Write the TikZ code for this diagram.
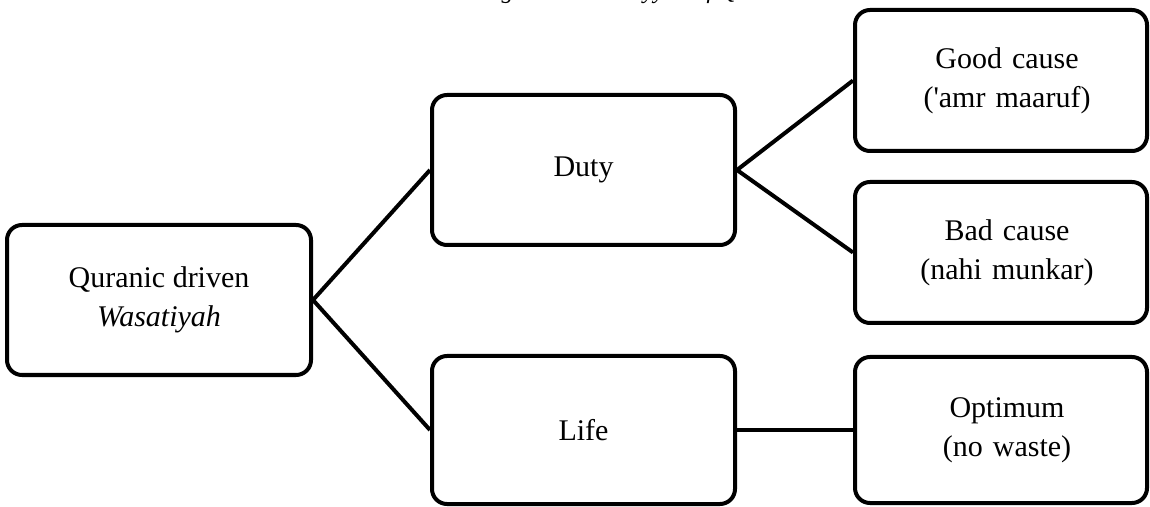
\documentclass[tikz,border=0pt]{standalone}
\usepackage{fontspec}
\setmainfont{Liberation Serif}
\begin{document}
\begin{tikzpicture}[x=0.5pt,y=-0.5pt,
  box/.style={draw=black, line width=2pt, rounded corners=7.5pt,
    align=center, inner sep=0pt, font=\fontsize{15}{19.5}\selectfont},
  link/.style={draw=black, line width=2pt}]
  \useasboundingbox (0,0) rectangle (1150,507);
  % caption sitting above the figure
  \node[anchor=base west, inner sep=0pt, font=\fontsize{12}{14}\selectfont\itshape]
    (cap) at (480,-1.5) {Figure 3: Wasatiyyah of Qur\textquotesingle an};
  % boxes
  \node[box, minimum width=152pt, minimum height=75pt] (root) at (159,300)
    {Quranic driven\\\textit{Wasatiyah}};
  \node[box, minimum width=151.5pt, minimum height=75pt] (duty) at (583.5,170) {Duty};
  \node[box, minimum width=151.5pt, minimum height=74pt] (life) at (583.5,430) {Life};
  \node[box, minimum width=146pt, minimum height=70.5pt, text width=146pt] (good) at (1001,80.5)
    {\hspace*{6pt}Good cause\\\hspace*{6pt}(\textquotesingle amr maaruf)};
  \node[box, minimum width=146pt, minimum height=70.5pt, text width=146pt] (bad) at (1001,252.5)
    {\hspace*{6pt}Bad cause\\\hspace*{6pt}(nahi munkar)};
  \node[box, minimum width=146pt, minimum height=73pt, text width=146pt] (opt) at (1001,430)
    {\hspace*{6pt}Optimum\\\hspace*{6pt}(no waste)};
  % connectors
  \draw[link] (root.east) -- (duty.west);
  \draw[link] (root.east) -- (life.west);
  \draw[link] (duty.east) -- (good.west);
  \draw[link] (duty.east) -- (bad.west);
  \draw[link] (life.east) -- (opt.west);
\end{tikzpicture}
\end{document}
